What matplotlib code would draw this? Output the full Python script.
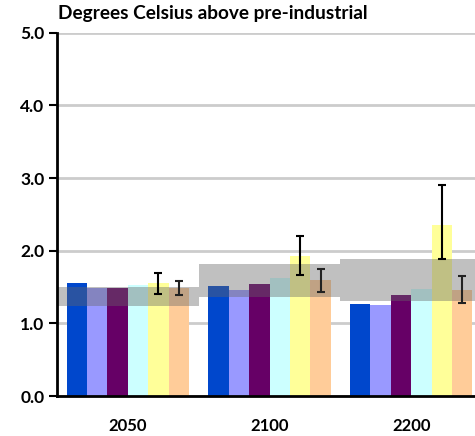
import matplotlib
matplotlib.use("Agg")
import matplotlib.pyplot as plt
import numpy as np

plt.rcParams["font.family"] = ["Lato", "DejaVu Sans"]

# --- Donnees ---
years = ["2050", "2100", "2200"]
blue = [1.55, 1.52, 1.26]
lavender = [1.49, 1.46, 1.25]
purple = [1.49, 1.54, 1.39]
cyan = [1.53, 1.62, 1.47]
yellow = [1.56, 1.93, 2.36]
peach = [1.49, 1.60, 1.46]
yellow_lo = [1.41, 1.67, 1.88]
yellow_hi = [1.70, 2.20, 2.91]
peach_lo = [1.39, 1.43, 1.28]
peach_hi = [1.58, 1.75, 1.65]
band_lo = [1.24, 1.36, 1.31]
band_hi = [1.50, 1.82, 1.89]
yticks = [0.0, 1.0, 2.0, 3.0, 4.0, 5.0]

series = [blue, lavender, purple, cyan, yellow, peach]
colors = ["#0047cc", "#9999ff", "#660066", "#ccffff", "#ffff99", "#ffcc99"]

fig = plt.figure(figsize=(4.75, 4.36), dpi=100)
ax = fig.add_axes([0.12, 0.0917, 0.88, 0.833])

x = np.arange(len(years))
w = 0.144
for i, (vals, c) in enumerate(zip(series, colors)):
    ax.bar(x + (i - 2.5) * w, vals, width=w, color=c, zorder=2)

# barres d'erreur (jaune et peche)
yx = x + 1.5 * w
px = x + 2.5 * w
ax.errorbar(yx, yellow, yerr=[np.array(yellow) - yellow_lo, np.array(yellow_hi) - yellow],
            fmt="none", ecolor="black", elinewidth=1.5, capsize=3, capthick=1.5, zorder=4)
ax.errorbar(px, peach, yerr=[np.array(peach) - peach_lo, np.array(peach_hi) - peach],
            fmt="none", ecolor="#222222", elinewidth=1.5, capsize=3, capthick=1.5, zorder=4)

# bande grise en escalier, par-dessus les barres
edges = np.arange(len(years) + 1) - 0.5
ax.fill_between(edges, band_lo + [band_lo[-1]], band_hi + [band_hi[-1]], step="post",
                color="#666666", alpha=0.41, linewidth=0, zorder=3)

ax.set_xlim(-0.5, 2.45)
ax.set_ylim(0, 5.0)
ax.set_yticks(yticks)
ax.set_yticklabels([f"{v:.1f}" for v in yticks], fontsize=12.5, fontweight="bold")
ax.set_xticks(x)
ax.set_xticklabels(years, fontsize=12, fontweight="bold")
ax.tick_params(axis="y", length=6, width=1.5, color="black", pad=3)
ax.tick_params(axis="x", length=0, pad=16)
ax.yaxis.grid(True, color="#cccccc", linewidth=2, zorder=0)
ax.set_axisbelow(True)
for side in ("top", "right"):
    ax.spines[side].set_visible(False)
ax.spines["left"].set_linewidth(2)
ax.spines["bottom"].set_linewidth(2)
ax.spines["left"].set_zorder(5)
ax.spines["bottom"].set_zorder(5)

ax.annotate("Degrees Celsius above pre-industrial", xy=(0, 1), xycoords="axes fraction",
            xytext=(1, 10), textcoords="offset points", fontsize=13.7, fontweight="bold",
            ha="left", va="baseline", annotation_clip=False)

fig.savefig("out.png", dpi=100)
